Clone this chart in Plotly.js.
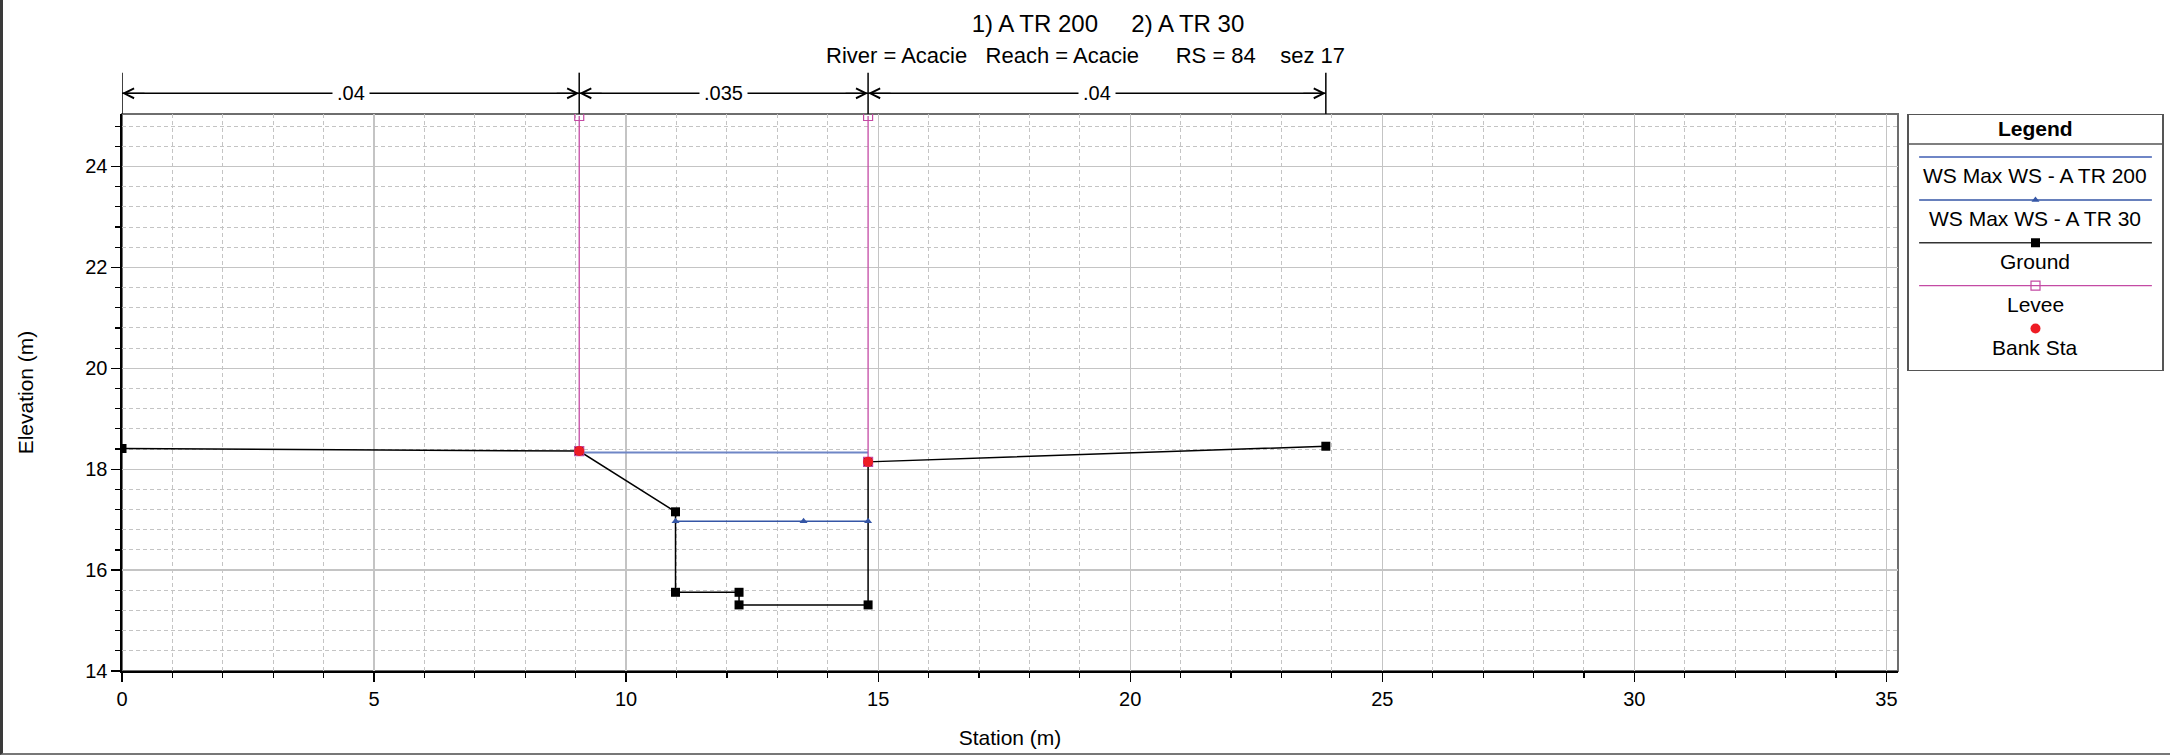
<!DOCTYPE html>
<html>
<head>
<meta charset="utf-8">
<script src="https://cdn.plot.ly/plotly-3.0.1.min.js"></script>
<style>
  html, body { margin: 0; padding: 0; background: #fff; }
  #wrap { position: relative; width: 2170px; height: 755px; }
  #chart { width: 2170px; height: 755px; }
  #frame { position: absolute; left: 0; top: 0; width: 2170px; height: 755px; box-sizing: border-box;
           border-left: 3px solid #3a3a3a; border-bottom: 2px solid #777; pointer-events: none; }
</style>
</head>
<body>
<div id="wrap"><div id="chart"></div><div id="frame"></div></div>
<script>
// ---------------- data ----------------
var groundX = [0, 9.07, 10.98, 10.98, 12.24, 12.24, 14.80, 14.80, 23.88];
var groundY = [18.41, 18.36, 17.155, 15.56, 15.56, 15.31, 15.31, 18.145, 18.455];

var ws200X = [9.07, 14.80];
var ws200Y = [18.33, 18.33];

var ws30X = [10.98, 13.52, 14.80];
var ws30Y = [16.97, 16.97, 16.97];

var leveeX = [9.07, 9.07, null, 14.80, 14.80];
var leveeY = [18.36, 25.0, null, 18.145, 25.0];

var bankX = [9.07, 14.80];
var bankY = [18.36, 18.145];

var manningBounds = [0, 9.07, 14.80, 23.88];
var manningValues = ['.04', '.035', '.04'];

var legendLabels = ['WS Max WS - A TR 200', 'WS Max WS - A TR 30', 'Ground', 'Levee', 'Bank Sta'];

var titleText = '1) A TR 200\u00a0\u00a0\u00a0\u00a0\u00a02) A TR 30';
var subtitleText = 'River = Acacie\u00a0\u00a0\u00a0Reach = Acacie\u00a0\u00a0\u00a0\u00a0\u00a0\u00a0RS = 84\u00a0\u00a0\u00a0\u00a0sez 17';

// ---------------- styles ----------------
var FONT = 'Liberation Sans, Arial, sans-serif';
var C_WS200 = '#6f86c6';
var C_WS30 = '#3556a6';
var C_GROUND = '#000000';
var C_LEVEE = '#c44aa4';
var C_BANK = '#ee1c24';
var GRID = '#c4c4c4';

var legendStyles = [
  {line: {color: C_WS200, width: 2}, marker: null},
  {line: {color: C_WS30, width: 1.5}, marker: {symbol: 'triangle-up', size: 7, color: C_WS30}},
  {line: {color: '#333333', width: 1.5}, marker: {symbol: 'square', size: 9, color: '#000'}},
  {line: {color: C_LEVEE, width: 1.3}, marker: {symbol: 'square-open', size: 9, color: C_LEVEE, line: {width: 1.2}}},
  {line: null, marker: {symbol: 'circle', size: 10, color: C_BANK}}
];

var traces = [
  {x: groundX, y: groundY, type: 'scatter', mode: 'lines+markers', name: 'Ground',
   line: {color: C_GROUND, width: 1.5}, marker: {symbol: 'square', size: 9, color: '#000'}, showlegend: false},
  {x: ws200X, y: ws200Y, type: 'scatter', mode: 'lines', name: 'WS Max WS - A TR 200',
   line: {color: C_WS200, width: 2}, showlegend: false},
  {x: ws30X, y: ws30Y, type: 'scatter', mode: 'lines+markers', name: 'WS Max WS - A TR 30',
   line: {color: C_WS30, width: 1.5}, marker: {symbol: 'triangle-up', size: 7, color: C_WS30}, showlegend: false},
  {x: leveeX, y: leveeY, type: 'scatter', mode: 'lines+markers', name: 'Levee', connectgaps: false,
   line: {color: C_LEVEE, width: 1.3}, marker: {symbol: 'square-open', size: 9, color: C_LEVEE, line: {width: 1.2}}, showlegend: false},
  {x: bankX, y: bankY, type: 'scatter', mode: 'markers', name: 'Bank Sta',
   marker: {symbol: 'circle', size: 10, color: C_BANK}, showlegend: false}
];

// ---------------- custom legend (second, hidden axes) ----------------
var shapes = [];
var annotations = [];
var rowTop = 0.835, rowStep = 0.168;
legendLabels.forEach(function (lab, i) {
  var ly = rowTop - i * rowStep;
  var st = legendStyles[i];
  if (st.line) {
    traces.push({x: [0.04, 0.96], y: [ly, ly], xaxis: 'x2', yaxis: 'y2', type: 'scatter', mode: 'lines',
                 line: st.line, hoverinfo: 'skip', showlegend: false});
  }
  if (st.marker) {
    traces.push({x: [0.5], y: [ly], xaxis: 'x2', yaxis: 'y2', type: 'scatter', mode: 'markers',
                 marker: st.marker, hoverinfo: 'skip', showlegend: false});
  }
  annotations.push({xref: 'x2', yref: 'y2', x: 0.5, y: ly - 0.073, text: lab, showarrow: false,
                    xanchor: 'center', yanchor: 'middle', font: {family: FONT, size: 21, color: '#000'}});
});
annotations.push({xref: 'x2', yref: 'y2', x: 0.5, y: 0.949, text: '<b>Legend</b>', showarrow: false,
                  xanchor: 'center', yanchor: 'middle', font: {family: FONT, size: 21, color: '#000'}});
shapes.push({type: 'line', xref: 'x2', yref: 'y2', x0: 0, x1: 1, y0: 0.886, y1: 0.886,
             line: {color: '#555', width: 1.5}});

// ---------------- Manning's n bar above the plot ----------------
var nLineY = 1.0372, nTopY = 1.0742;
manningBounds.forEach(function (b) {
  shapes.push({type: 'line', xref: 'x', yref: 'paper', x0: b, x1: b, y0: 1, y1: nTopY,
               line: {color: '#111', width: 1.6}});
});
manningValues.forEach(function (v, i) {
  var a = manningBounds[i], b = manningBounds[i + 1];
  shapes.push({type: 'line', xref: 'x', yref: 'paper', x0: a, x1: b, y0: nLineY, y1: nLineY,
               line: {color: '#000', width: 1.4}});
  annotations.push({xref: 'x', yref: 'paper', x: (a + b) / 2, y: nLineY, text: v, showarrow: false,
                    bgcolor: '#fff', borderpad: 4, xanchor: 'center', yanchor: 'middle',
                    font: {family: FONT, size: 20, color: '#000'}});
  annotations.push({xref: 'x', yref: 'paper', x: a, y: nLineY, text: '', showarrow: true,
                    arrowhead: 5, arrowsize: 1.5, arrowwidth: 1.3, arrowcolor: '#000',
                    axref: 'pixel', ayref: 'pixel', ax: 24, ay: 0});
  annotations.push({xref: 'x', yref: 'paper', x: b, y: nLineY, text: '', showarrow: true,
                    arrowhead: 5, arrowsize: 1.5, arrowwidth: 1.3, arrowcolor: '#000',
                    axref: 'pixel', ayref: 'pixel', ax: -24, ay: 0});
});

// subtitle
annotations.push({xref: 'paper', yref: 'paper', x: 0.4721, y: 1.1059, text: subtitleText, showarrow: false,
                  xanchor: 'center', yanchor: 'middle', font: {family: FONT, size: 22, color: '#000'}});

// plot frame (grey) – axis lines themselves are drawn black on left/bottom
shapes.push({type: 'rect', xref: 'x domain', yref: 'y domain', x0: 0, x1: 1, y0: 0, y1: 1,
             line: {color: '#6e6e6e', width: 2}, layer: 'below'});

var layout = {
  width: 2170, height: 755,
  margin: {l: 122, r: 8, t: 114, b: 84, pad: 0},
  paper_bgcolor: '#fff', plot_bgcolor: '#fff',
  font: {family: FONT, size: 20, color: '#000'},
  showlegend: false,
  title: {text: titleText, xref: 'container', yref: 'container', x: 0.5106, y: 0.9689,
          xanchor: 'center', yanchor: 'middle', font: {family: FONT, size: 24, color: '#000'}},
  xaxis: {
    domain: [0, 0.870588], range: [0, 35.23], autorange: false,
    tick0: 0, dtick: 5, ticks: 'outside', ticklen: 9, tickwidth: 1.3, tickcolor: '#000',
    showline: true, linecolor: '#000', linewidth: 2, zeroline: false,
    showgrid: true, gridcolor: GRID, gridwidth: 1.3,
    minor: {dtick: 1, ticks: 'outside', ticklen: 5, tickwidth: 1.2, tickcolor: '#000',
            showgrid: true, gridcolor: GRID, gridwidth: 1, griddash: '4px,3px'},
    tickfont: {family: FONT, size: 20, color: '#000'},
    title: {text: 'Station (m)', font: {family: FONT, size: 21, color: '#000'}},
    automargin: false, fixedrange: true
  },
  yaxis: {
    range: [14, 25.04], autorange: false,
    tick0: 14, dtick: 2, ticks: 'outside', ticklen: 9, tickwidth: 1.3, tickcolor: '#000',
    showline: true, linecolor: '#000', linewidth: 1.6, zeroline: false,
    showgrid: true, gridcolor: GRID, gridwidth: 1.3,
    minor: {dtick: 0.4, ticks: 'outside', ticklen: 5, tickwidth: 1.2, tickcolor: '#000',
            showgrid: true, gridcolor: GRID, gridwidth: 1, griddash: '4px,3px'},
    tickfont: {family: FONT, size: 20, color: '#000'},
    title: {text: 'Elevation (m)', standoff: 46, font: {family: FONT, size: 21, color: '#000'}},
    automargin: false, fixedrange: true
  },
  xaxis2: {domain: [0.87598, 1.0], range: [0, 1], anchor: 'y2', showgrid: false, zeroline: false,
           showticklabels: false, ticks: '', showline: true, mirror: true, linecolor: '#555', linewidth: 1.5,
           fixedrange: true},
  yaxis2: {domain: [0.5404, 0.9982], range: [0, 1], anchor: 'x2', showgrid: false, zeroline: false,
           showticklabels: false, ticks: '', showline: true, mirror: true, linecolor: '#555', linewidth: 1.5,
           fixedrange: true},
  shapes: shapes,
  annotations: annotations
};

Plotly.newPlot('chart', traces, layout, {displayModeBar: false, staticPlot: true});
</script>
</body>
</html>
